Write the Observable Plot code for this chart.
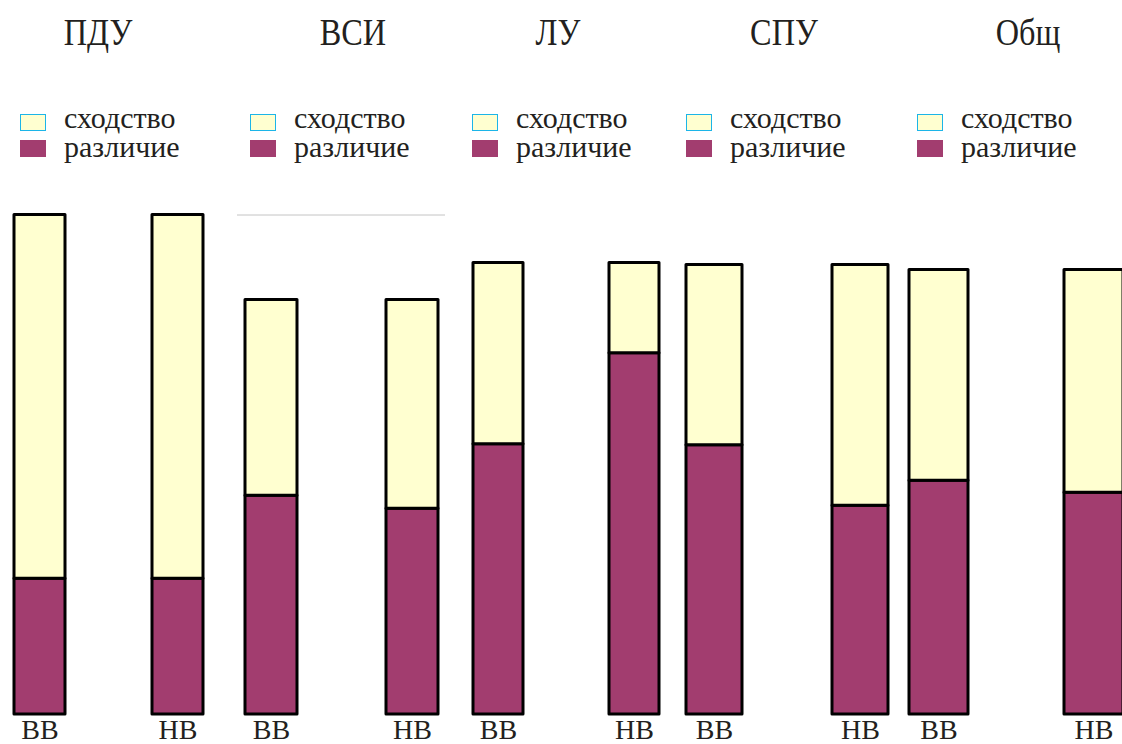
<!DOCTYPE html>
<html>
<head>
<meta charset="utf-8">
<script src="https://cdn.jsdelivr.net/npm/d3@7"></script>
<script src="https://cdn.jsdelivr.net/npm/@observablehq/plot@0.6"></script>
<style>
  html, body { margin: 0; padding: 0; background: #fff; overflow: hidden; }
  #page { position: relative; width: 1122px; height: 744px; font-family: "Liberation Serif", "DejaVu Serif", "Times New Roman", serif; color: #231f20; }
  .title { position: absolute; top: 13px; width: 200px; margin-left: -100px; text-align: center; font-size: 38px; line-height: 38px; transform: scaleX(0.85); }
  .leg { position: absolute; top: 103px; font-size: 30px; line-height: 29px; white-space: nowrap; }
  .sw { position: absolute; width: 26px; height: 17px; box-sizing: border-box; }
  .panel { position: absolute; left: 0; top: 190px; }
</style>
</head>
<body>
<div id="page"></div>
<script>
// ---- data ----
const groups = ["ПДУ", "ВСИ", "ЛУ", "СПУ", "Общ"];
const kinds = ["ВВ", "НВ"];
const parts = ["различие", "сходство"];
const legendLabels = ["сходство", "различие"];
// values per group: [ВВ, НВ]
const difference = [[27.2, 27.2], [43.8, 41.2], [54.1, 72.3], [53.9, 41.8], [46.8, 44.4]];
const similarity = [[72.8, 72.8], [39.2, 41.8], [36.3, 18.1], [36.1, 48.2], [42.2, 44.6]];

// ---- layout / style ----
const purple = "#a23d6f", cream = "#ffffd0", cyan = "#1cb5e8";
const serif = "'Liberation Serif', 'DejaVu Serif', 'Times New Roman', serif";
const W = 1122;
// per panel: left edge of first bar, left edge of second bar, bar outer width, title centre, legend left
const layout = [
  {a: 12, c: 150, w: 54, tc: 98, ll: 20},
  {a: 243, c: 384, w: 55, tc: 353, ll: 250, rule: [237, 445]},
  {a: 471, c: 607, w: 53, tc: 558, ll: 472},
  {a: 684, c: 830, w: 59, tc: 784, ll: 686},
  {a: 907, c: 1062, w: 62, tc: 1028, ll: 917}
];

const page = document.getElementById("page");

groups.forEach((g, i) => {
  const L = layout[i];
  // title
  const t = document.createElement("div");
  t.className = "title";
  t.style.left = L.tc + "px";
  t.textContent = g;
  page.appendChild(t);
  // legend
  const sw1 = document.createElement("div");
  sw1.className = "sw";
  sw1.style.cssText = `left:${L.ll}px;top:114px;background:${cream};border:1.5px solid ${cyan};`;
  page.appendChild(sw1);
  const sw2 = document.createElement("div");
  sw2.className = "sw";
  sw2.style.cssText = `left:${L.ll}px;top:140px;background:${purple};`;
  page.appendChild(sw2);
  const leg = document.createElement("div");
  leg.className = "leg";
  leg.style.left = (L.ll + 44) + "px";
  leg.innerHTML = legendLabels.join("<br>");
  page.appendChild(leg);

  // chart
  const rows = [];
  kinds.forEach((k, j) => {
    rows.push({kind: k, part: parts[0], value: difference[i][j]});
  });
  kinds.forEach((k, j) => {
    rows.push({kind: k, part: parts[1], value: similarity[i][j]});
  });
  const step = L.c - L.a;
  const bw = L.w - 3;
  const marks = [
    Plot.barY(rows, {x: "kind", y: "value", fill: "part", stroke: "black", strokeWidth: 3, strokeLinejoin: "round"}),
    Plot.axisX({tickSize: 0, tickPadding: 5, fontSize: 28, fill: "#231f20", fontFamily: serif})
  ];
  if (L.rule) marks.unshift(Plot.ruleY([100], {stroke: "#c4c4c4", strokeWidth: 1}));
  const mL = L.rule ? L.rule[0] : 0;
  const mR = L.rule ? W - L.rule[1] : 0;
  const chart = Plot.plot({
    width: W,
    height: 554,
    marginTop: 24.5,
    marginBottom: 30,
    marginLeft: mL,
    marginRight: mR,
    style: {background: "transparent", fontFamily: serif, overflow: "visible"},
    x: {type: "band", domain: kinds, range: [L.a + 1.5, L.a + 1.5 + step + bw], paddingInner: 1 - bw / step, paddingOuter: 0, label: null},
    y: {domain: [0, 100], axis: null},
    color: {domain: parts, range: [purple, cream]},
    marks
  });
  chart.classList.add("panel");
  page.appendChild(chart);
});
</script>
</body>
</html>
